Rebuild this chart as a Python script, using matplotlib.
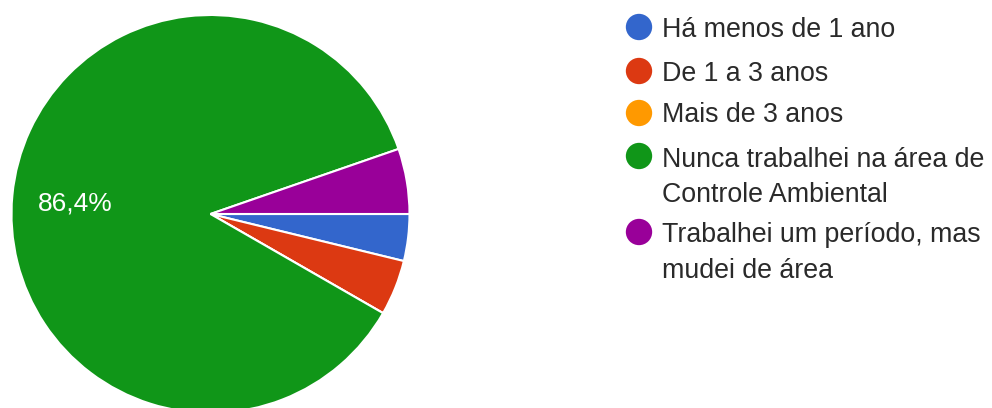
import matplotlib.pyplot as plt

plt.rcParams['font.family'] = ['Liberation Sans', 'DejaVu Sans']

labels = ["Há menos de 1 ano", "De 1 a 3 anos", "Mais de 3 anos",
          "Nunca trabalhei na área de\nControle Ambiental",
          "Trabalhei um período, mas\nmudei de área"]
shares = [3.8, 4.5, 0.0, 86.4, 5.3]
colors = ["#3366cc", "#dc3912", "#ff9900", "#109618", "#990099"]

W, H = 992, 408
fig = plt.figure(figsize=(W / 100, H / 100), dpi=100)

# pie: centre (210.5, 214) px from top-left, radius 199 px
cx, cy, r = 210.5, 214, 199
ax = fig.add_axes([(cx - r) / W, (H - cy - r) / H, 2 * r / W, 2 * r / H])


def pct(p):
    return f"{p:.1f}%".replace(".", ",") if p > 10 else ""


wedges, _, autotexts = ax.pie(
    shares, colors=colors, startangle=0, counterclock=False, radius=1,
    autopct=pct, pctdistance=0.685,
    wedgeprops=dict(edgecolor="white", linewidth=1.5),
    textprops=dict(color="white", fontsize=19))
for t in autotexts:
    t.set_va("center_baseline")
ax.set_xlim(-1, 1)
ax.set_ylim(-1, 1)
ax.set_aspect("equal")
ax.axis("off")

# legend drawn in pixel space (y grows downwards)
lg = fig.add_axes([0, 0, 1, 1])
lg.set_xlim(0, W)
lg.set_ylim(H, 0)
lg.axis("off")
dot_y = [27, 71, 113, 156, 232]
base_y = [37, 81, 122, 167, 242]
line_gap = 35.5
for dy, by, lab, col in zip(dot_y, base_y, labels, colors):
    lg.scatter([639], [dy], s=360, color=col, edgecolors="none")
    for i, part in enumerate(lab.split("\n")):
        lg.text(662, by + i * line_gap, part, fontsize=19.3, color="#2a2a2a",
                va="baseline", ha="left")

fig.savefig("out.png", dpi=100, facecolor="white")
